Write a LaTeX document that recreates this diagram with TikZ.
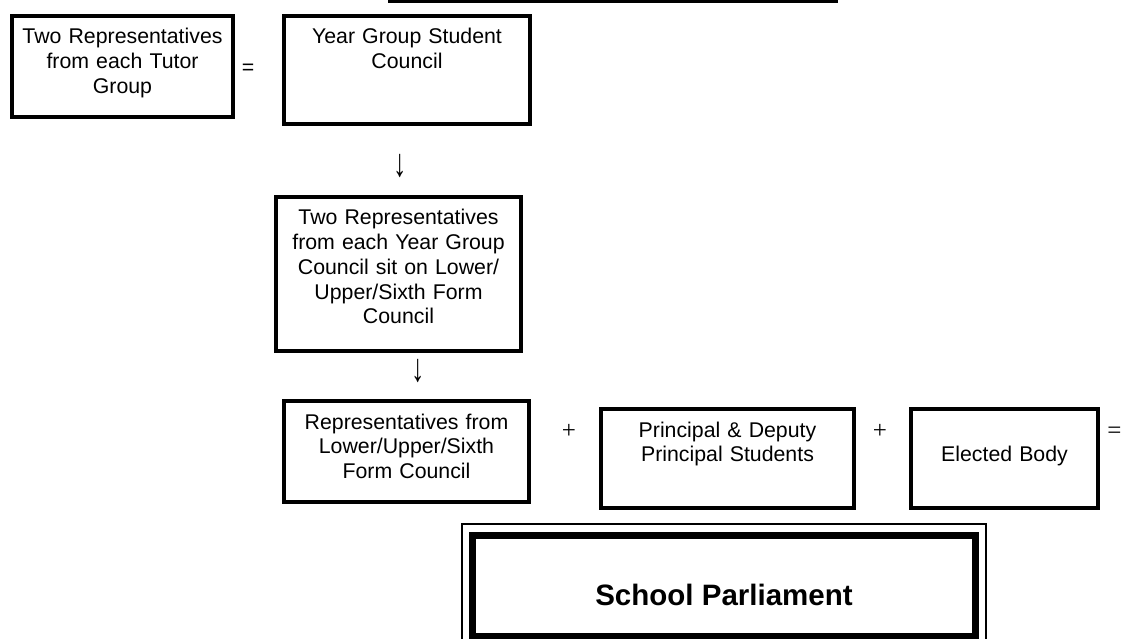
\documentclass[tikz,border=0pt]{standalone}
\usepackage{fontspec}
\setmainfont{Liberation Sans}
\newfontfamily\serifsym{Liberation Serif}
\usetikzlibrary{calc}
\begin{document}
\begin{tikzpicture}[x=1pt,y=-1pt,
  box/.style={draw, line width=4pt, inner sep=0pt, align=center, anchor=north,
    text height=28pt, font=\fontsize{21.3}{24.7}\selectfont},
  glyph/.style={inner sep=0pt, font=\fontsize{21.3}{24.7}\selectfont},
  opsym/.style={inner sep=0pt, anchor=base, font=\serifsym\fontsize{25}{28}\selectfont},
  eqsym/.style={inner sep=0pt, anchor=base, font=\fontsize{21.3}{24.7}\selectfont},
  parl/.style={draw, line width=7pt, inner sep=0pt, minimum width=503pt, minimum height=101.5pt,
    text height=40pt, text depth=1.5pt, font=\fontsize{29.5}{34}\selectfont\bfseries},
  thinframe/.style={draw, line width=1.3pt}
]
\useasboundingbox (0,0) rectangle (1122,639);

% bottom edge of a box above the visible area
\fill (388,-1) rectangle (838,3);

\node[box, text width=221pt, text depth=73pt] (b1) at (122.5,14)
  {Two Representatives\\from each Tutor\\Group};
\node[box, text width=246pt, text depth=80pt] (b2) at (407,14)
  {Year Group Student\\Council};
\node[eqsym] (eq1) at (248,74.2) {=};

\node[glyph] (a1) at (400,166) {\scalebox{1.25}[1.85]{↓}};

\node[box, text width=245pt, text depth=126pt] (b3) at (398.5,195)
  {Two Representatives\\from each Year Group\\Council sit on Lower/\\Upper/Sixth Form\\Council};

\node[glyph] (a2) at (418,371.5) {\scalebox{1.25}[1.85]{↓}};

\node[box, text width=245pt, text depth=73pt] (b4) at (406.5,399)
  {Representatives from\\Lower/Upper/Sixth\\Form Council};
\node[opsym] (p1) at (569,438.5) {+};
\node[box, text width=253pt, text depth=71pt] (b5) at (727.5,407)
  {Principal \& Deputy\\Principal Students};
\node[opsym] (p2) at (880,438.5) {+};
\node[box, text width=187pt, text height=52.7pt, text depth=46.3pt] (b6) at (1004.5,407)
  {Elected Body};
\node[opsym] (eq2) at (1114.5,438.5) {=};

\node[parl] (sp) at (724,585.75) {School Parliament};
\draw[thinframe] ([shift={(-7,-7.5)}]sp.north west) rectangle ([shift={(7,10)}]sp.south east);
\end{tikzpicture}
\end{document}
